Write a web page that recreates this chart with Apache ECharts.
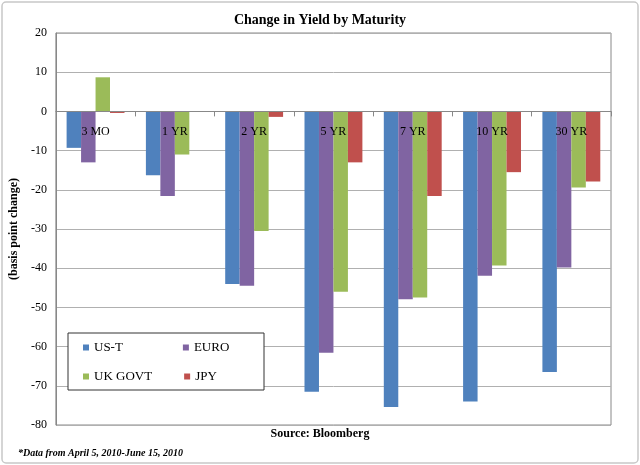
<!DOCTYPE html>
<html><head><meta charset="utf-8">
<script src="https://cdn.jsdelivr.net/npm/echarts@6/dist/echarts.min.js"></script>
<style>html,body{margin:0;padding:0;background:#fff}#c{width:640px;height:465px}</style>
</head><body><div id="c"></div>
<script>
const categories = ['3 MO','1 YR','2 YR','5 YR','7 YR','10 YR','30 YR'];
const usT   = [-9.3, -16.3, -44.0, -71.5, -75.4, -74.0, -66.5];
const euro  = [-13.0, -21.6, -44.5, -61.6, -47.9, -41.9, -39.8];
const ukGovt= [8.7, -11.0, -30.5, -46.0, -47.5, -39.3, -19.4];
const jpy   = [-0.4, 0, -1.4, -13.0, -21.6, -15.5, -17.9];
const yTicks = {min:-80, max:20, interval:10};

const F = '"Liberation Serif", "Times New Roman", serif';
const colors = ['#4F81BD','#8064A2','#9BBB59','#C0504D'];
const chart = echarts.init(document.getElementById('c'));
const gridTop = 33, gridBottom = 40, H = 465;
const zeroOffset = (H - gridTop - gridBottom) * yTicks.max / (yTicks.max - yTicks.min);
function bar(name, data, i){
  return {name, type:'bar', data, barGap:'0%', barCategoryGap:'27%',
    itemStyle:{color:colors[i]}};
}
const legendCommon = {icon:'rect', itemWidth:6, itemHeight:6, itemGap:60, z:10,
  textStyle:{fontFamily:F, fontSize:13, color:'#000'}, selectedMode:false, padding:0};
chart.setOption({
  animation:false,
  color: colors,
  title:{text:'Change in Yield by Maturity', left:'center', top:8,
    textStyle:{fontFamily:F, fontSize:14, fontWeight:'bold', color:'#000'}},
  grid:{left:54, right:29, top:gridTop, bottom:gridBottom, show:true, borderColor:'#888', borderWidth:1},
  legend:[
    Object.assign({data:['US-T','EURO'], left:83, top:341}, legendCommon),
    Object.assign({data:['UK GOVT','JPY'], left:83, top:370}, legendCommon, {itemGap:32})
  ],
  xAxis:{type:'category', data:categories, position:'top', offset:-zeroOffset, z:10,
    axisLine:{onZero:false, lineStyle:{color:'#888'}},
    axisTick:{show:true, inside:true, length:5, lineStyle:{color:'#888'}},
    axisLabel:{inside:true, fontFamily:F, fontSize:12, color:'#000', margin:14},
  },
  yAxis:{type:'value', min:yTicks.min, max:yTicks.max, interval:yTicks.interval,
    name:'(basis point change)', nameLocation:'middle', nameGap:34, nameRotate:90,
    nameTextStyle:{fontFamily:F, fontSize:12, fontWeight:'bold', color:'#000'},
    axisLine:{show:true, lineStyle:{color:'#888'}},
    axisTick:{show:false},
    axisLabel:{fontFamily:F, fontSize:12, color:'#000', margin:9},
    splitLine:{lineStyle:{color:'#b0b0b0'}}
  },
  graphic:[
    {type:'rect', shape:{x:2, y:2, width:636, height:461, r:4}, style:{fill:null, stroke:'#c8c8c8', lineWidth:1.5}, z:-1},
    {type:'rect', shape:{x:68, y:333, width:196, height:57}, style:{fill:'#fff', stroke:'#333', lineWidth:1}, z:3},
    {type:'text', left:'center', top:428, style:{text:'Source: Bloomberg', font:'bold 12px '+F, fill:'#000'}},
    {type:'text', left:18, top:448, style:{text:'*Data from April 5, 2010-June 15, 2010', font:'italic bold 10px '+F, fill:'#000'}}
  ],
  series:[bar('US-T',usT,0), bar('EURO',euro,1), bar('UK GOVT',ukGovt,2), bar('JPY',jpy,3)]
});
</script></body></html>
